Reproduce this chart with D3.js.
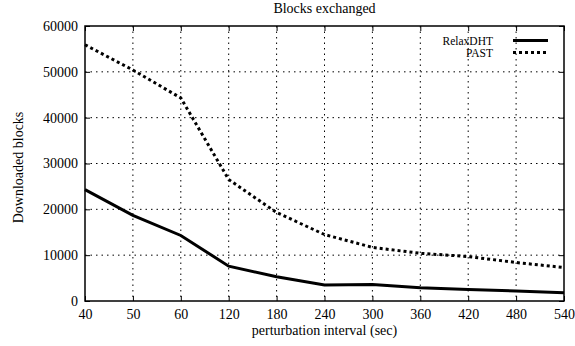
<!DOCTYPE html>
<html>
<head>
<meta charset="utf-8">
<script src="https://cdn.jsdelivr.net/npm/d3@7"></script>
<style>
  body { margin: 0; background: #fff; }
</style>
</head>
<body>
<div id="chart"></div>
<script>
// perturbation intervals (sec), plotted at equal spacing
const intervals = ["40", "50", "60", "120", "180", "240", "300", "360", "420", "480", "540"];
const relaxDHT = [24300, 18700, 14300, 7600, 5300, 3500, 3600, 2900, 2500, 2200, 1800];
const past = [55900, 50400, 44300, 26500, 19300, 14500, 11700, 10400, 9700, 8400, 7300];
const yTicks = [0, 10000, 20000, 30000, 40000, 50000, 60000];

const serif = "'Liberation Serif', 'Times New Roman', 'DejaVu Serif', serif";

const width = 575, height = 346;
const margin = { top: 26, right: 11, bottom: 45, left: 85 };
const w = width - margin.left - margin.right;
const h = height - margin.top - margin.bottom;

const svg = d3.select("#chart").append("svg")
    .attr("width", width)
    .attr("height", height)
    .attr("font-family", serif);

const g = svg.append("g")
    .attr("transform", `translate(${margin.left},${margin.top})`);

const x = d3.scalePoint().domain(intervals).range([0, w]);
const y = d3.scaleLinear().domain([0, 60000]).range([h, 0]);

// dotted grid
g.append("g").selectAll("line")
    .data(intervals.slice(1, -1))
    .join("line")
    .attr("x1", d => x(d)).attr("x2", d => x(d))
    .attr("y1", 0).attr("y2", h)
    .attr("stroke", "#000").attr("stroke-width", 1)
    .attr("stroke-dasharray", "1.5,4");

g.append("g").selectAll("line")
    .data(yTicks.slice(1, -1))
    .join("line")
    .attr("x1", 0).attr("x2", w)
    .attr("y1", d => y(d)).attr("y2", d => y(d))
    .attr("stroke", "#000").attr("stroke-width", 1)
    .attr("stroke-dasharray", "1.5,4");

// axes, ticks mirrored on all sides
const xAxis = g.append("g")
    .attr("transform", `translate(0,${h})`)
    .call(d3.axisBottom(x).tickSizeInner(-5).tickSizeOuter(0).tickPadding(8));
const xTop = g.append("g")
    .call(d3.axisTop(x).tickSizeInner(-5).tickSizeOuter(0).tickFormat(""));
const yAxis = g.append("g")
    .call(d3.axisLeft(y).tickValues(yTicks).tickFormat(d3.format("d"))
        .tickSizeInner(-5).tickSizeOuter(0).tickPadding(7));
const yRight = g.append("g")
    .attr("transform", `translate(${w},0)`)
    .call(d3.axisRight(y).tickValues(yTicks).tickSizeInner(-5).tickSizeOuter(0).tickFormat(""));

[xAxis, xTop, yAxis, yRight].forEach(a => {
    a.attr("font-family", serif).attr("font-size", 14);
    a.select(".domain").remove();
    a.selectAll(".tick line").attr("stroke", "#000");
    a.selectAll("text").attr("fill", "#000");
});

g.append("rect")
    .attr("width", w).attr("height", h)
    .attr("fill", "none").attr("stroke", "#000").attr("stroke-width", 1.5);

// series
const line = d3.line()
    .x((d, i) => x(intervals[i]))
    .y(d => y(d));

g.append("path")
    .datum(relaxDHT)
    .attr("d", line)
    .attr("fill", "none").attr("stroke", "#000").attr("stroke-width", 3);

g.append("path")
    .datum(past)
    .attr("d", line)
    .attr("fill", "none").attr("stroke", "#000").attr("stroke-width", 3)
    .attr("stroke-dasharray", "3,3");

// legend
const legend = [
    { name: "RelaxDHT", dash: null },
    { name: "PAST", dash: "3,3" }
];
const lg = g.append("g").attr("transform", `translate(${w - 16},14.5)`);
legend.forEach((d, i) => {
    lg.append("text")
        .attr("x", -55).attr("y", i * 12 + 4)
        .attr("text-anchor", "end")
        .attr("font-family", serif)
        .attr("font-size", 11.5)
        .text(d.name);
    lg.append("line")
        .attr("x1", -35).attr("x2", 0)
        .attr("y1", i * 12).attr("y2", i * 12)
        .attr("stroke", "#000").attr("stroke-width", 3)
        .attr("stroke-dasharray", d.dash);
});

// titles
svg.append("text")
    .attr("x", margin.left + w / 2).attr("y", 13)
    .attr("text-anchor", "middle")
    .attr("font-family", serif)
    .attr("font-size", 14)
    .text("Blocks exchanged");

svg.append("text")
    .attr("x", margin.left + w / 2).attr("y", 335)
    .attr("text-anchor", "middle")
    .attr("font-family", serif)
    .attr("font-size", 14)
    .text("perturbation interval (sec)");

svg.append("text")
    .attr("transform", `translate(23,${margin.top + h / 2 + 4}) rotate(-90)`)
    .attr("text-anchor", "middle")
    .attr("font-family", serif)
    .attr("font-size", 14)
    .text("Downloaded blocks");
</script>
</body>
</html>
